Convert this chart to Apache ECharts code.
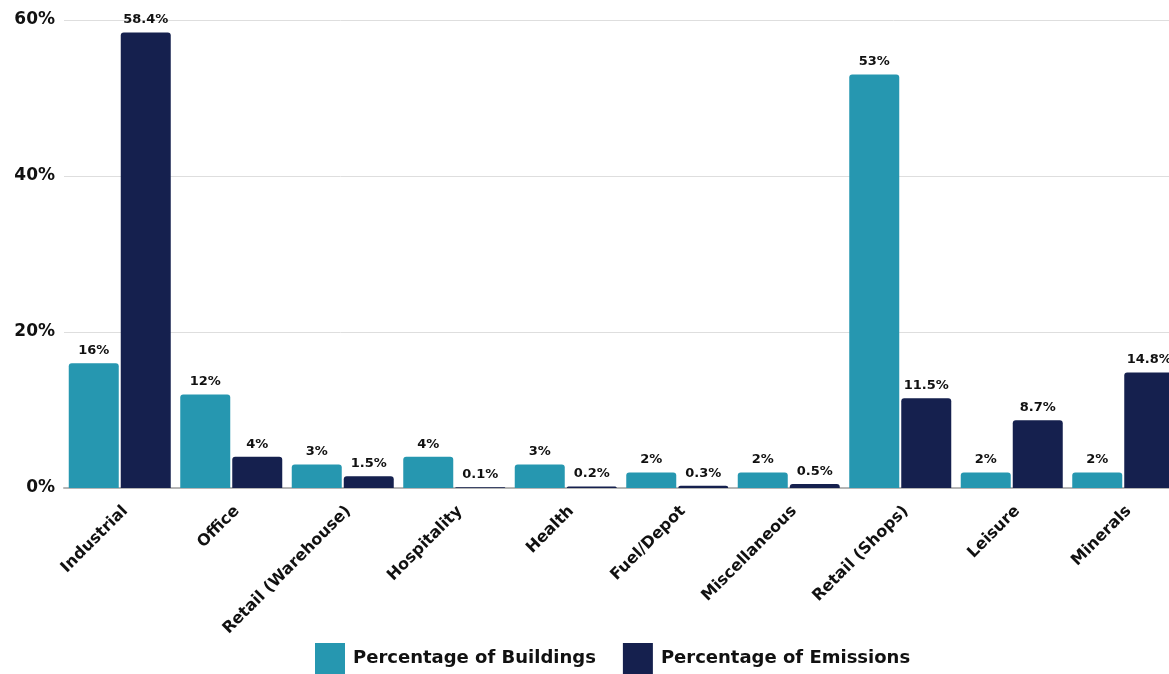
<!DOCTYPE html>
<html><head><meta charset="utf-8">
<script src="https://cdn.jsdelivr.net/npm/echarts@6/dist/echarts.min.js"></script>
<style>html,body{margin:0;padding:0;background:#fff}#c{width:1169px;height:674px}</style>
</head><body><div id="c"></div>
<script>
var categories = ['Industrial','Office','Retail (Warehouse)','Hospitality','Health','Fuel/Depot','Miscellaneous','Retail (Shops)','Leisure','Minerals'];
var buildings = [16,12,3,4,3,2,2,53,2,2];
var emissions = [58.4,4,1.5,0.1,0.2,0.3,0.5,11.5,8.7,14.8];
var yTicks = [0,20,40,60];
var FONT = 'DejaVu Sans';
var chart = echarts.init(document.getElementById('c'));
var lbl = {show:true, position:'top', distance:6, color:'#111', fontFamily:FONT, fontWeight:'bold', fontSize:13, formatter:function(p){return p.value+'%';}};
chart.setOption({
  animation:false,
  grid:{left:64, width:1115, top:20, height:468, containLabel:false, outerBoundsMode:'none'},
  legend:{top:643, left:315, padding:0, itemWidth:30, itemHeight:31, itemGap:27, icon:'rect',
    textStyle:{fontFamily:FONT, fontWeight:'bold', fontSize:18, color:'#111', padding:[10,0,0,3]}},
  xAxis:{type:'category', data:categories,
    axisLine:{lineStyle:{color:'#b5b5b5', width:2}}, axisTick:{show:false},
    axisLabel:{rotate:45, interval:0, margin:15, verticalAlign:'top', color:'#111', fontFamily:FONT, fontWeight:'bold', fontSize:16}},
  yAxis:{type:'value', min:0, max:60, interval:20,
    axisLabel:{formatter:function(v){return yTicks.indexOf(v)>=0? v+'%':'';}, color:'#111', fontFamily:FONT, fontWeight:'bold', fontSize:17, margin:9},
    splitLine:{lineStyle:{color:'#dedede'}}, axisLine:{show:false}, axisTick:{show:false}},
  series:[
    {name:'Percentage of Buildings', type:'bar', data:buildings, barWidth:50, barGap:'4%',
      itemStyle:{color:'#2697b0', borderRadius:[3,3,0,0]}, label:lbl},
    {name:'Percentage of Emissions', type:'bar', data:emissions, barWidth:50,
      itemStyle:{color:'#15204e', borderRadius:[3,3,0,0]}, label:lbl}
  ]
});
</script></body></html>
